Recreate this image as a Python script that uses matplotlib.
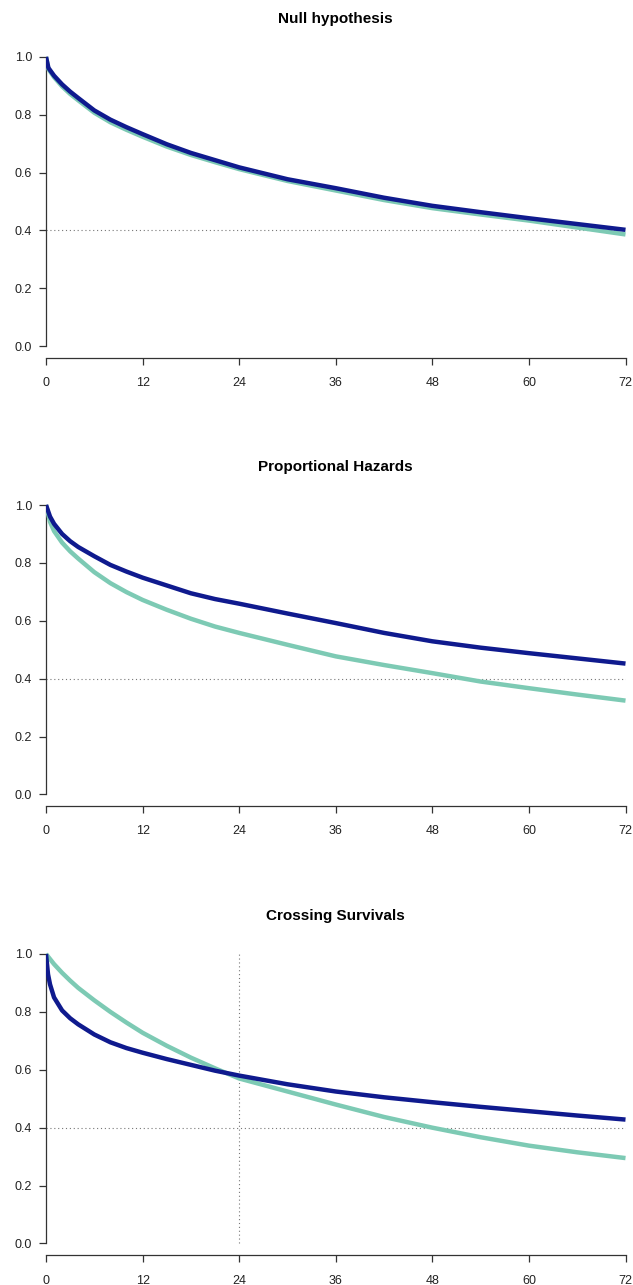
import matplotlib
matplotlib.use("Agg")
import matplotlib.pyplot as plt

plt.rcParams['font.family'] = ['Liberation Sans', 'DejaVu Sans']

navy_col = "#0f1a8e"
teal_col = "#7dcab4"

# months and survival
t_null = [0, 0.3, 1, 2, 3, 4, 6, 8, 10, 12, 15, 18, 21, 24, 30, 36, 42, 48, 54, 60, 66, 72]
null_navy = [1.0, 0.962, 0.935, 0.905, 0.88, 0.858, 0.815, 0.783, 0.757, 0.733, 0.698, 0.668,
             0.643, 0.618, 0.577, 0.546, 0.513, 0.485, 0.463, 0.442, 0.422, 0.402]
null_teal = [1.0, 0.958, 0.93, 0.898, 0.872, 0.85, 0.807, 0.774, 0.748, 0.724, 0.69, 0.661,
             0.636, 0.612, 0.571, 0.538, 0.505, 0.477, 0.455, 0.434, 0.41, 0.386]

t_ph = [0, 0.5, 1, 2, 3, 4, 6, 8, 10, 12, 15, 18, 21, 24, 30, 36, 42, 48, 54, 60, 66, 72]
ph_navy = [1.0, 0.96, 0.935, 0.9, 0.875, 0.855, 0.823, 0.793, 0.77, 0.749, 0.722, 0.695,
           0.675, 0.659, 0.625, 0.592, 0.558, 0.529, 0.507, 0.488, 0.47, 0.452]
ph_teal = [1.0, 0.942, 0.91, 0.87, 0.84, 0.815, 0.768, 0.73, 0.699, 0.672, 0.638, 0.607,
           0.58, 0.558, 0.517, 0.477, 0.447, 0.419, 0.39, 0.367, 0.345, 0.324]

t_cross_navy = [0, 0.25, 0.5, 1, 2, 3, 4, 6, 8, 10, 12, 15, 18, 21, 24, 30, 36, 42, 48, 54, 60, 66, 72]
cross_navy = [1.0, 0.93, 0.895, 0.85, 0.805, 0.778, 0.757, 0.722, 0.695, 0.675, 0.659, 0.637,
              0.617, 0.597, 0.58, 0.55, 0.525, 0.505, 0.488, 0.472, 0.457, 0.442, 0.428]
t_cross_teal = [0, 1, 2, 3, 4, 6, 8, 10, 12, 15, 18, 21, 24, 30, 36, 42, 48, 54, 60, 66, 72]
cross_teal = [1.0, 0.965, 0.935, 0.908, 0.883, 0.84, 0.80, 0.763, 0.728, 0.683, 0.642, 0.605,
              0.57, 0.525, 0.48, 0.437, 0.40, 0.367, 0.338, 0.315, 0.295]

titles = ["Null hypothesis", "Proportional Hazards", "Crossing Survivals"]
x_ticks = [0, 12, 24, 36, 48, 60, 72]
y_ticks = [0.0, 0.2, 0.4, 0.6, 0.8, 1.0]
ref_surv = 0.4
cross_time = 24

panels = [
    (t_null, null_navy, t_null, null_teal),
    (t_ph, ph_navy, t_ph, ph_teal),
    (t_cross_navy, cross_navy, t_cross_teal, cross_teal),
]

fig = plt.figure(figsize=(6.33, 12.85), dpi=100)
boxes = [(0.7217, 0.9647), (0.3728, 0.6160), (0.0233, 0.2666)]
left, right = 46 / 633, 625.5 / 633

for i, ((tn, sn, tt, st), (b, t)) in enumerate(zip(panels, boxes)):
    ax = fig.add_axes([left, b, right - left, t - b])
    ax.plot(tt, st, color=teal_col, lw=3.2, solid_capstyle='butt', zorder=3)
    ax.plot(tn, sn, color=navy_col, lw=3.2, solid_capstyle='butt', zorder=4)
    ax.plot([0, 72], [ref_surv, ref_surv], color="#777777", lw=0.8,
            linestyle=(0, (1, 2.5)), zorder=2)
    if i == 2:
        ax.plot([cross_time, cross_time], [0, 1], color="#777777", lw=0.8,
                linestyle=(0, (1, 2.5)), zorder=2)
    ax.set_xlim(0, 72)
    ax.set_ylim(-0.04, 1.04)
    ax.spines['top'].set_visible(False)
    ax.spines['right'].set_visible(False)
    ax.spines['left'].set_bounds(0, 1)
    ax.spines['bottom'].set_bounds(0, 72)
    for s in ('left', 'bottom'):
        ax.spines[s].set_linewidth(0.9)
        ax.spines[s].set_color("#333333")
    ax.set_xticks(x_ticks)
    ax.set_xticklabels([str(v) for v in x_ticks])
    ax.set_yticks(y_ticks)
    ax.set_yticklabels(["%.1f" % v for v in y_ticks])
    ax.tick_params(axis='both', direction='out', length=5, width=0.9,
                   color="#333333", labelsize=9, labelcolor="#222222")
    ax.tick_params(axis='x', pad=9)
    ax.tick_params(axis='y', pad=5)
    for lab in ax.get_xticklabels():
        lab.set_clip_on(False)
    ax.set_title(titles[i], fontsize=11, fontweight='bold', pad=16)

fig.savefig("out.png", dpi=100)
